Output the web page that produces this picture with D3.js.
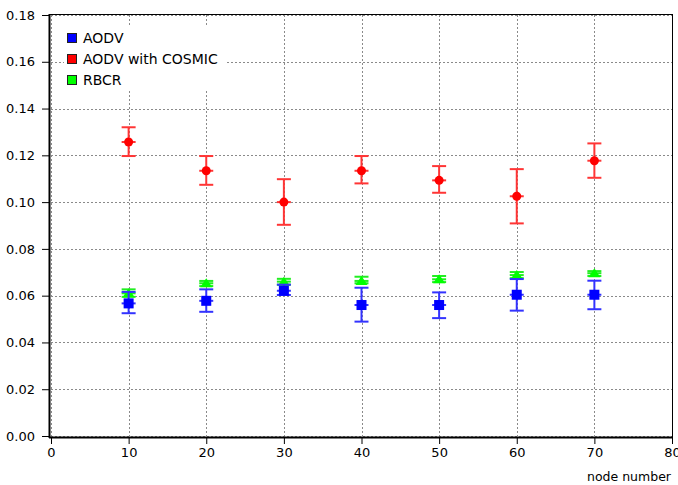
<!DOCTYPE html>
<html>
<head>
<meta charset="utf-8">
<script src="https://cdn.jsdelivr.net/npm/d3@7"></script>
<style>
  body { margin: 0; background: #fff; }
  svg { display: block; font-family: "DejaVu Sans", sans-serif; }
</style>
</head>
<body>
<svg width="678" height="485"></svg>
<script>
// node counts on x
const nodes = [10, 20, 30, 40, 50, 60, 70];

// AODV
const aodv = [0.0567, 0.0578, 0.0621, 0.0560, 0.0560, 0.0604, 0.0604];
const aodvLow = [0.0525, 0.0531, 0.0603, 0.0489, 0.0504, 0.0536, 0.0542];
const aodvHigh = [0.0616, 0.0627, 0.0647, 0.0634, 0.0614, 0.0671, 0.0664];

// AODV with COSMIC
const cosmic = [0.1257, 0.1134, 0.1000, 0.1134, 0.1093, 0.1025, 0.1177];
const cosmicLow = [0.1197, 0.1074, 0.0903, 0.1080, 0.1040, 0.0909, 0.1104];
const cosmicHigh = [0.1320, 0.1197, 0.1098, 0.1197, 0.1154, 0.1141, 0.1251];

// RBCR
const rbcr = [0.0610, 0.0653, 0.0660, 0.0663, 0.0670, 0.0688, 0.0696];
const rbcrLow = [0.0595, 0.0641, 0.0647, 0.0653, 0.0658, 0.0675, 0.0684];
const rbcrHigh = [0.0627, 0.0663, 0.0672, 0.0681, 0.0684, 0.0701, 0.0705];

const xTicks = [0, 10, 20, 30, 40, 50, 60, 70, 80];
const yTicks = [0, 0.02, 0.04, 0.06, 0.08, 0.10, 0.12, 0.14, 0.16, 0.18];

const svg = d3.select("svg");

const x = d3.scaleLinear().domain([0, 80]).range([51, 672]);
const y = d3.scaleLinear().domain([0, 0.18]).range([436, 15]);

// grid
const grid = svg.append("g")
  .attr("stroke", "#8a8a8a")
  .attr("stroke-width", 1)
  .attr("stroke-dasharray", "2,2");
grid.selectAll(".gx").data(xTicks).enter().append("line")
  .attr("x1", (d) => Math.round(x(d)) + 0.5).attr("x2", (d) => Math.round(x(d)) + 0.5)
  .attr("y1", y(0.18)).attr("y2", y(0));
grid.selectAll(".gy").data(yTicks).enter().append("line")
  .attr("y1", (d) => Math.round(y(d)) + 0.5).attr("y2", (d) => Math.round(y(d)) + 0.5)
  .attr("x1", x(0)).attr("x2", x(80));

// frame
svg.append("rect")
  .attr("x", 49.5).attr("y", 14.5)
  .attr("width", 623).attr("height", 423)
  .attr("fill", "none").attr("stroke", "#000").attr("stroke-width", 1);
svg.append("line").attr("x1", 49.5).attr("x2", 49.5).attr("y1", 14).attr("y2", 438)
  .attr("stroke", "#000").attr("stroke-width", 2);
svg.append("line").attr("x1", 49).attr("x2", 673).attr("y1", 437.5).attr("y2", 437.5)
  .attr("stroke", "#000").attr("stroke-width", 2);

// axes
const xAxis = svg.append("g")
  .attr("transform", "translate(0,438)")
  .call(d3.axisBottom(x).tickValues(xTicks).tickSize(6).tickPadding(4).tickFormat(d3.format("d")));
xAxis.select(".domain").remove();
xAxis.selectAll("text").attr("font-size", 13).attr("font-family", "DejaVu Sans").attr("fill", "#000");

const yAxis = svg.append("g")
  .attr("transform", "translate(49,0)")
  .call(d3.axisLeft(y).tickValues(yTicks).tickSize(7).tickPadding(7).tickFormat(d3.format(".2f")));
yAxis.select(".domain").remove();
yAxis.selectAll("text").attr("font-size", 13).attr("font-family", "DejaVu Sans").attr("fill", "#000");

svg.append("text")
  .attr("x", 671).attr("y", 481)
  .attr("text-anchor", "end")
  .attr("font-size", 12.5)
  .text("node number");

// series
const series = [
  { name: "AODV with COSMIC", vals: cosmic, lo: cosmicLow, hi: cosmicHigh, fill: "#ff0000", err: "#ff3535", shape: "circle" },
  { name: "RBCR", vals: rbcr, lo: rbcrLow, hi: rbcrHigh, fill: "#00ff00", err: "#22ee22", shape: "triangle" },
  { name: "AODV", vals: aodv, lo: aodvLow, hi: aodvHigh, fill: "#0000ff", err: "#3333ff", shape: "square" }
];

const cap = 7;
series.forEach((s) => {
  const g = svg.append("g");
  const pts = nodes.map((n, i) => ({ n: n, v: s.vals[i], lo: s.lo[i], hi: s.hi[i] }));
  const p = g.selectAll("g").data(pts).enter().append("g");
  p.append("line")
    .attr("x1", (d) => x(d.n)).attr("x2", (d) => x(d.n))
    .attr("y1", (d) => y(d.hi)).attr("y2", (d) => y(d.lo))
    .attr("stroke", s.err).attr("stroke-width", 2);
  [(d) => y(d.hi), (d) => y(d.lo), (d) => y(d.v)].forEach((f) => {
    p.append("line")
      .attr("x1", (d) => x(d.n) - cap).attr("x2", (d) => x(d.n) + cap)
      .attr("y1", f).attr("y2", f)
      .attr("stroke", s.err).attr("stroke-width", 2);
  });
  if (s.shape === "circle") {
    p.append("circle").attr("cx", (d) => x(d.n)).attr("cy", (d) => y(d.v))
      .attr("r", 4.5).attr("fill", s.fill);
  } else if (s.shape === "square") {
    p.append("rect").attr("x", (d) => x(d.n) - 5).attr("y", (d) => y(d.v) - 5)
      .attr("width", 10).attr("height", 10).attr("fill", s.fill);
  } else {
    p.append("path")
      .attr("d", (d) => {
        const cx = x(d.n), cy = y(d.v);
        return `M${cx},${cy - 5}L${cx + 6},${cy + 4}L${cx - 6},${cy + 4}Z`;
      })
      .attr("fill", s.fill);
  }
});

// legend
const legendItems = [
  { name: "AODV", fill: "#0000ff" },
  { name: "AODV with COSMIC", fill: "#ff0000" },
  { name: "RBCR", fill: "#00ff00" }
];
svg.append("rect").attr("x", 64).attr("y", 27).attr("width", 162).attr("height", 62).attr("fill", "#fff");
const lg = svg.append("g").selectAll("g").data(legendItems).enter().append("g")
  .attr("transform", (d, i) => `translate(67,${38 + i * 21})`);
lg.append("rect").attr("x", 0.5).attr("y", -4.5).attr("width", 9).attr("height", 9)
  .attr("fill", (d) => d.fill).attr("stroke", "#222").attr("stroke-width", 1);
lg.append("text").attr("x", 16).attr("y", 5).attr("font-size", 14).text((d) => d.name);
</script>
</body>
</html>
